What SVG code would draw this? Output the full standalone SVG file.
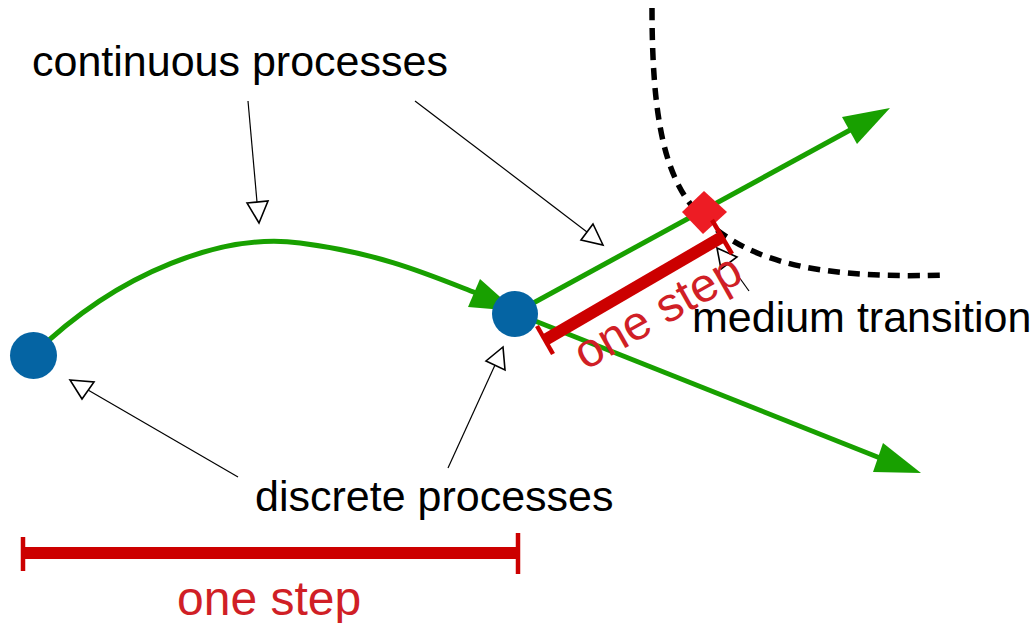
<svg xmlns="http://www.w3.org/2000/svg" width="1036" height="623" viewBox="0 0 1036 623">
  <style>
    .lbl { font-family: "Liberation Sans", Arial, sans-serif; font-size: 43px; fill: #000000; }
    .red { font-family: "Liberation Sans", Arial, sans-serif; font-size: 48px; fill: #d01f26; }
    .flow { fill: none; stroke: #18a000; stroke-width: 5; }
    .head { fill: #18a000; stroke: none; }
    .ptr { fill: none; stroke: #000000; stroke-width: 1.2; }
    .tri { fill: #ffffff; stroke: #000000; stroke-width: 1.6; stroke-linejoin: miter; }
    .node { fill: #0564a3; }
    .bar { stroke: #cc0000; stroke-width: 12; fill: none; }
    .cap { stroke: #cc0000; stroke-width: 4.5; fill: none; }
    .medium { fill: none; stroke: #000000; stroke-width: 5.5; stroke-dasharray: 12 8; }
  </style>

  <!-- medium boundary -->
  <path id="medium-boundary" class="medium" d="M 652 8 C 652 120 665 180 700 215 C 740 255 800 280 945 275"/>

  <g id="connectors">
    <!-- continuous processes (green) -->
    <path class="flow" d="M 33 355 C 120 270 225 233 300 243 C 380 253 430 275 476 293"/>
    <polygon class="head" points="480,279 468,307 516,311"/>
    <line class="flow" x1="515" y1="313" x2="852" y2="129"/>
    <polygon class="head" points="842,117 857,144 890,108"/>
    <line class="flow" x1="515" y1="313" x2="880" y2="458"/>
    <polygon class="head" points="883,443 873,472 921,473"/>

    <!-- label pointers -->
    <line class="ptr" x1="248" y1="101" x2="257" y2="202"/>
    <polygon class="tri" points="247,203 268,201 259,223"/>
    <line class="ptr" x1="415" y1="101" x2="587" y2="232"/>
    <polygon class="tri" points="593,224 581,240 603,245"/>
    <line class="ptr" x1="238" y1="477" x2="88" y2="390"/>
    <polygon class="tri" points="70,380 94,382 82,399"/>
    <line class="ptr" x1="448" y1="468" x2="495" y2="365"/>
    <polygon class="tri" points="486,361 505,370 503,347"/>
    <line class="ptr" x1="749" y1="291" x2="729" y2="263"/>
    <polygon class="tri" points="717,248 737,257 721,269"/>
  </g>

  <g id="node-left">
    <circle class="node" cx="33.5" cy="355.5" r="23.5"/>
  </g>
  <g id="node-middle">
    <circle class="node" cx="515" cy="314" r="23"/>
  </g>
  <g id="medium-transition">
    <polygon fill="#ed1c24" points="704,191 727,212 703,234 682,212"/>
  </g>

  <g id="step-rotated">
    <line class="bar" x1="545" y1="340" x2="722" y2="237"/>
    <line class="cap" x1="537" y1="326" x2="553" y2="354"/>
    <line class="cap" x1="712" y1="220" x2="732" y2="254"/>
    <text class="red" transform="translate(659,314) rotate(-29.5)" x="0" y="13" text-anchor="middle">one step</text>
  </g>

  <g id="step-bottom">
    <line class="bar" x1="23" y1="553" x2="518" y2="553"/>
    <line class="cap" x1="23" y1="537" x2="23" y2="571"/>
    <line class="cap" x1="518" y1="533" x2="518" y2="574"/>
    <text class="red" x="177" y="615">one step</text>
  </g>

  <g id="labels">
    <text class="lbl" x="32" y="76">continuous processes</text>
    <text class="lbl" x="255" y="511">discrete processes</text>
    <text class="lbl" x="692" y="332">medium transition</text>
  </g>
</svg>
